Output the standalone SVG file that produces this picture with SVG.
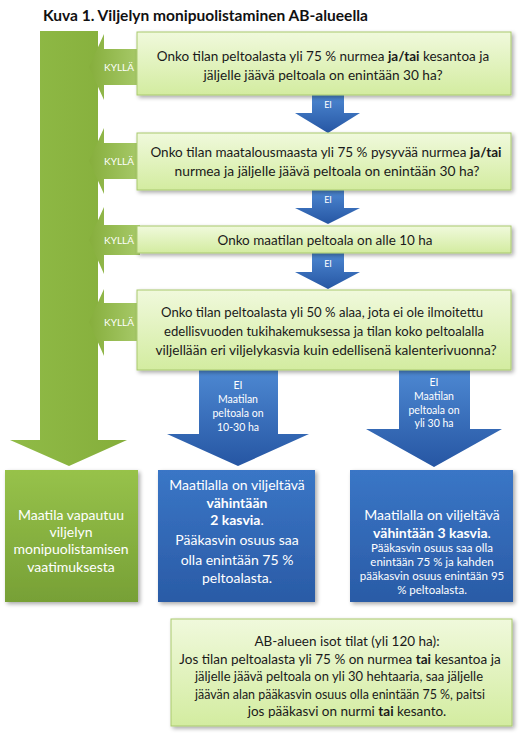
<svg xmlns="http://www.w3.org/2000/svg" width="526" height="738" viewBox="0 0 526 738">
<defs>
<linearGradient id="gBox" x1="0" y1="0" x2="0" y2="1">
<stop offset="0" stop-color="#f0f9dc"/><stop offset="1" stop-color="#d3eca0"/>
</linearGradient>
<linearGradient id="gBar" x1="0" y1="0" x2="1" y2="0">
<stop offset="0" stop-color="#90bb47"/><stop offset="1" stop-color="#85ae3b"/>
</linearGradient>
<linearGradient id="gYes" x1="0" y1="0" x2="1" y2="0">
<stop offset="0" stop-color="#86ae3c"/><stop offset="1" stop-color="#a8ca6a"/>
</linearGradient>
<linearGradient id="gGreenBox" x1="0" y1="0" x2="0" y2="1">
<stop offset="0" stop-color="#97c24a"/><stop offset="1" stop-color="#77a036"/>
</linearGradient>
<linearGradient id="gBlue" x1="0" y1="0" x2="0" y2="1">
<stop offset="0" stop-color="#4d88d2"/><stop offset="1" stop-color="#2656a3"/>
</linearGradient>
<linearGradient id="gBlueBox" x1="0" y1="0" x2="0" y2="1">
<stop offset="0" stop-color="#3a76c6"/><stop offset="1" stop-color="#2a5ba6"/>
</linearGradient>
<filter id="sh" x="-10%" y="-20%" width="125%" height="150%">
<feGaussianBlur in="SourceAlpha" stdDeviation="2"/>
<feOffset dx="1.5" dy="2" result="b"/>
<feComponentTransfer><feFuncA type="linear" slope="0.35"/></feComponentTransfer>
<feMerge><feMergeNode/><feMergeNode in="SourceGraphic"/></feMerge>
</filter>
</defs>
<style>
text{font-family:Lato,"Liberation Sans",sans-serif;}
.q{font-size:14px;fill:#1a1a1a;text-anchor:middle;}
.q2{font-size:13.5px;fill:#1a1a1a;text-anchor:middle;}
.w{fill:#ffffff;text-anchor:middle;}
.box{fill:url(#gBox);stroke:#a9c96e;stroke-width:1;filter:url(#sh);}
.yes{fill:url(#gYes);}
.no{fill:url(#gBlue);}
.b{font-weight:bold;}
</style>
<rect width="526" height="738" fill="#ffffff"/>
<text x="43" y="21" style="font-size:16px;font-weight:bold;fill:#111" textLength="325" lengthAdjust="spacingAndGlyphs">Kuva 1. Viljelyn monipuolistaminen AB-alueella</text>

<g id="connectors">
<path id="bar" d="M40,31 H98 V440 H127 L69,466 L10,440 H40 Z" fill="url(#gBar)"/>
<path d="M89,67 L104,34 V49 H140 V85 H104 V100 Z" class="yes"/>
<text x="119" y="71" class="w" style="font-size:10px">KYLLÄ</text>
<path d="M89,161 L104,128 V143 H140 V179 H104 V194 Z" class="yes"/>
<text x="119" y="165" class="w" style="font-size:10px">KYLLÄ</text>
<path d="M89,240 L104,207 V225 H140 V255 H104 V274 Z" class="yes"/>
<text x="119" y="244" class="w" style="font-size:10px">KYLLÄ</text>
<path d="M89,322 L104,289 V303 H140 V341 H104 V356 Z" class="yes"/>
<text x="119" y="326" class="w" style="font-size:10px">KYLLÄ</text>

<path d="M312,95 H344 V113 H360 L328,133 L295,113 H312 Z" class="no"/>
<text x="328" y="108" class="w" style="font-size:9px">EI</text>
<path d="M312,190 H344 V208 H360 L328,224 L295,208 H312 Z" class="no"/>
<text x="328" y="203" class="w" style="font-size:9px">EI</text>
<path d="M312,253 H344 V272 H360 L328,289 L295,272 H312 Z" class="no"/>
<text x="328" y="267" class="w" style="font-size:9px">EI</text>

<path d="M199,370 H278 V434 H309 L238,466 L167,434 H199 Z" class="no"/>
<g class="w" style="font-size:10.5px">
<text x="238" y="389">EI</text>
<text x="238" y="403">Maatilan</text>
<text x="238" y="417">peltoala on</text>
<text x="238" y="431">10-30 ha</text>
</g>
<path d="M399,370 H470 V429 H502 L434,467 L366,429 H399 Z" class="no"/>
<g class="w" style="font-size:10.5px">
<text x="434" y="386">EI</text>
<text x="434" y="400">Maatilan</text>
<text x="434" y="414">peltoala on</text>
<text x="434" y="427">yli 30 ha</text>
</g>
</g>

<g id="q1">
<rect x="137" y="32" width="374" height="63" class="box"/>
<text x="323" y="61" class="q2">Onko tilan peltoalasta yli 75 % nurmea <tspan class="b">ja/tai</tspan> kesantoa ja</text>
<text x="323" y="80" class="q" textLength="239" lengthAdjust="spacingAndGlyphs">jäljelle jäävä peltoala on enintään 30 ha?</text>
</g>
<g id="q2">
<rect x="137" y="133" width="374" height="57" class="box"/>
<text x="326" y="157" class="q2">Onko tilan maatalousmaasta yli 75 % pysyvää nurmea <tspan class="b">ja/tai</tspan></text>
<text x="327" y="176" class="q" textLength="305" lengthAdjust="spacingAndGlyphs">nurmea ja jäljelle jäävä peltoala on enintään 30 ha?</text>
</g>
<g id="q3">
<rect x="137" y="226" width="374" height="27" class="box"/>
<text x="325" y="245" class="q" textLength="215" lengthAdjust="spacingAndGlyphs">Onko maatilan peltoala on alle 10 ha</text>
</g>
<g id="q4">
<rect x="137" y="290" width="374" height="80" class="box"/>
<text x="322" y="317" class="q" textLength="322" lengthAdjust="spacingAndGlyphs">Onko tilan peltoalasta yli 50 % alaa, jota ei ole ilmoitettu</text>
<text x="324" y="336" class="q" textLength="320" lengthAdjust="spacingAndGlyphs">edellisvuoden tukihakemuksessa ja tilan koko peltoalalla</text>
<text x="326" y="355" class="q" textLength="341" lengthAdjust="spacingAndGlyphs">viljellään eri viljelykasvia kuin edellisenä kalenterivuonna?</text>
</g>

<g id="r1">
<rect x="5" y="470" width="133" height="132" fill="url(#gGreenBox)" filter="url(#sh)"/>
<g class="w" style="font-size:14px">
<text x="71" y="520">Maatila vapautuu</text>
<text x="71" y="537">viljelyn</text>
<text x="71" y="554">monipuolistamisen</text>
<text x="71" y="572">vaatimuksesta</text>
</g>
</g>
<g id="r2">
<rect x="158" y="470" width="157" height="132" fill="url(#gBlueBox)" filter="url(#sh)"/>
<g class="w" style="font-size:14px">
<text x="237" y="490">Maatilalla on viljeltävä</text>
<text x="237" y="508" class="b">vähintään</text>
<text x="237" y="525"><tspan class="b">2 kasvia</tspan>.</text>
<text x="237" y="545">Pääkasvin osuus saa</text>
<text x="237" y="565">olla enintään 75 %</text>
<text x="237" y="583">peltoalasta.</text>
</g>
</g>
<g id="r3">
<rect x="350" y="470" width="163" height="132" fill="url(#gBlueBox)" filter="url(#sh)"/>
<g class="w">
<text x="432" y="520" style="font-size:14px">Maatilalla on viljeltävä</text>
<text x="432" y="538" style="font-size:14px"><tspan class="b">vähintään 3 kasvia</tspan>.</text>
<text x="432" y="552" style="font-size:11.5px">Pääkasvin osuus saa olla</text>
<text x="432" y="566" style="font-size:11.5px">enintään 75 % ja kahden</text>
<text x="432" y="580" style="font-size:11.5px">pääkasvin osuus enintään 95</text>
<text x="432" y="594" style="font-size:11.5px">% peltoalasta.</text>
</g>
</g>

<g id="note">
<rect x="171" y="619" width="341" height="107" class="box"/>
<text x="347" y="646" class="q2">AB-alueen isot tilat (yli 120 ha):</text>
<text x="340" y="664" class="q2">Jos tilan peltoalasta yli 75 % on nurmea <tspan class="b">tai</tspan> kesantoa ja</text>
<text x="339" y="681" class="q" textLength="288" lengthAdjust="spacingAndGlyphs">jäljelle jäävä peltoala on yli 30 hehtaaria, saa jäljelle</text>
<text x="340" y="699" class="q" textLength="290" lengthAdjust="spacingAndGlyphs">jäävän alan pääkasvin osuus olla enintään 75 %, paitsi</text>
<text x="347" y="716" class="q2">jos pääkasvi on nurmi <tspan class="b">tai</tspan> kesanto.</text>
</g>
</svg>
